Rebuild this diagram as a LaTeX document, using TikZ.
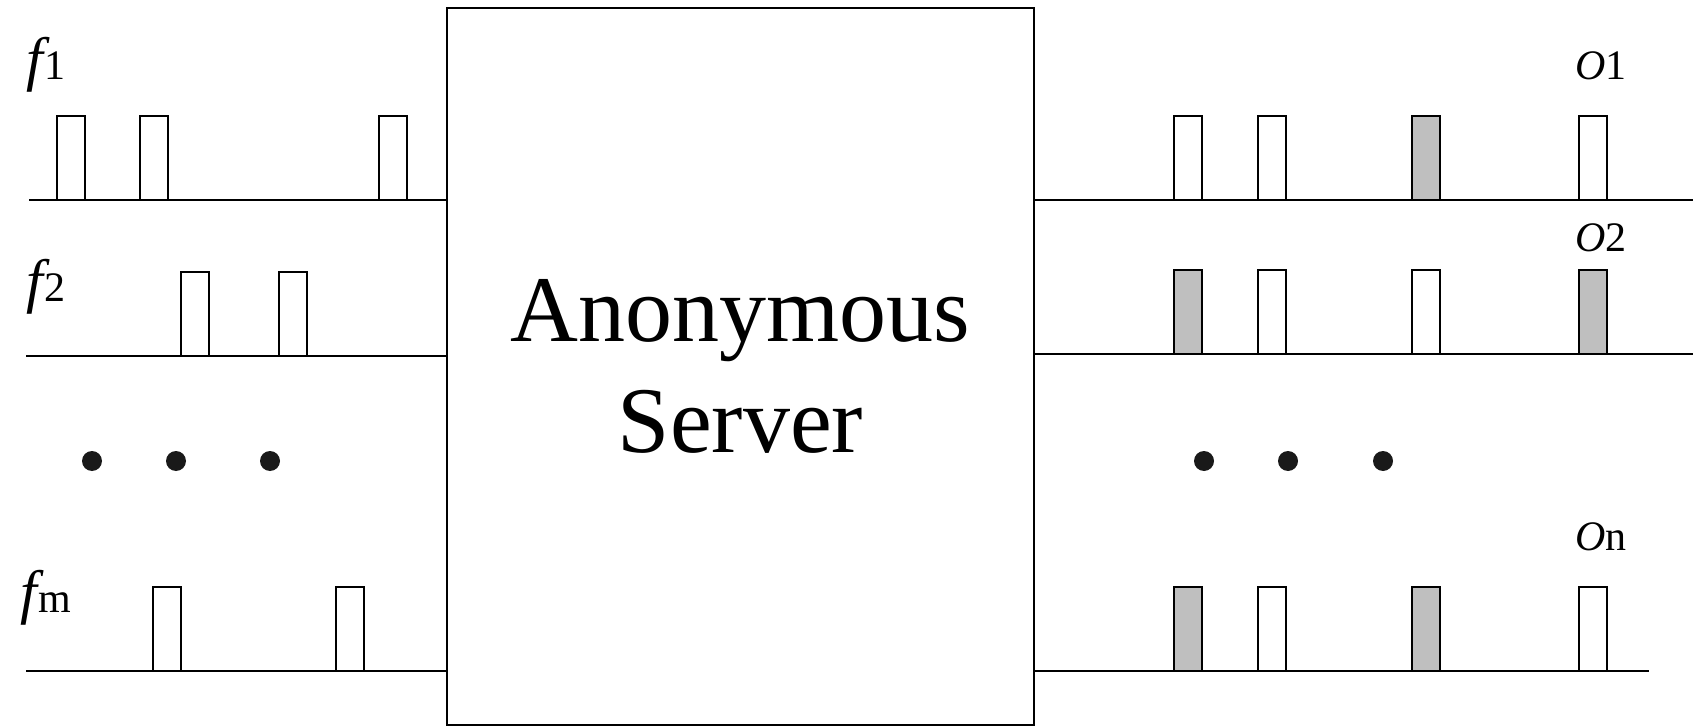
\documentclass[tikz,border=0pt]{standalone}
\usepackage{fontspec}
\setmainfont{Liberation Serif}
\usepackage{tikz}
\usetikzlibrary{positioning}
\usetikzlibrary{calc}

\newcommand{\bigf}{{\fontsize{30}{30}\selectfont\itshape f}}

\begin{document}
\begin{tikzpicture}[x=0.5pt,y=-0.5pt,line width=1pt,
	every node/.style={inner sep=0,outer sep=0},
	pulse/.style={draw,line width=1pt,minimum width=14pt,minimum height=42pt,anchor=south},
	hit/.style={pulse,fill=black!25},
	lbl/.style={anchor=base west,font=\fontsize{21}{25}\selectfont},
	dot/.style={circle,fill=black!90,minimum size=10pt}]
	\useasboundingbox (0,0) rectangle (1693,727);
	% the server
	\node (srv) [draw,minimum width=293.5pt,minimum height=358.5pt,align=center,
		font=\fontsize{47}{55.5}\selectfont] at (740.5,366.5) {Anonymous\\Server};
	% flows in
	\coordinate (f1s) at (29,200);
	\coordinate (f2s) at (26,356);
	\coordinate (fms) at (26,671);
	\node (f1) [lbl] at (26,80) {\bigf\kern1pt 1};
	\node (f2) [lbl] at (26,302) {\bigf\kern1pt 2};
	\node (fm) [lbl] at (20,612) {\bigf\kern1pt m};
	\node (a1) [pulse] at (70.5,200) {};
	\node (a2) [pulse] at (154,200) {};
	\node (a3) [pulse] at (392.5,200) {};
	\node (b1) [pulse] at (195,356) {};
	\node (b2) [pulse] at (293,356) {};
	\node (m1) [pulse] at (167,671) {};
	\node (m2) [pulse] at (350,671) {};
	\node (ld1) [dot] at (92,461) {};
	\node (ld2) [dot] at (176,461) {};
	\node (ld3) [dot] at (270,461) {};
	% flows out
	\coordinate (o1e) at (1693,200);
	\coordinate (o2e) at (1693,354);
	\coordinate (one) at (1649,671);
	\node (o1) [lbl] at (1575,80) {\textit{O}1};
	\node (o2) [lbl] at (1575,252) {\textit{O}2};
	\node (on) [lbl] at (1575,550) {\textit{O}n};
	\node (x1) [pulse] at (1187.5,200) {};
	\node (x2) [pulse] at (1272,200) {};
	\node (x3) [hit] at (1425.5,200) {};
	\node (x4) [pulse] at (1593,200) {};
	\node (y1) [hit] at (1187.5,354) {};
	\node (y2) [pulse] at (1272,354) {};
	\node (y3) [pulse] at (1425.5,354) {};
	\node (y4) [hit] at (1593,354) {};
	\node (z1) [hit] at (1187.5,671) {};
	\node (z2) [pulse] at (1272,671) {};
	\node (z3) [hit] at (1425.5,671) {};
	\node (z4) [pulse] at (1593,671) {};
	\node (rd1) [dot] at (1204,461) {};
	\node (rd2) [dot] at (1288,461) {};
	\node (rd3) [dot] at (1383,461) {};
	\path[draw]
		(f1s) edge (f1s -| srv.west)
		(f2s) edge (f2s -| srv.west)
		(fms) edge (fms -| srv.west)
		(o1e -| srv.east) edge (o1e)
		(o2e -| srv.east) edge (o2e)
		(one -| srv.east) edge (one);
\end{tikzpicture}
\end{document}
